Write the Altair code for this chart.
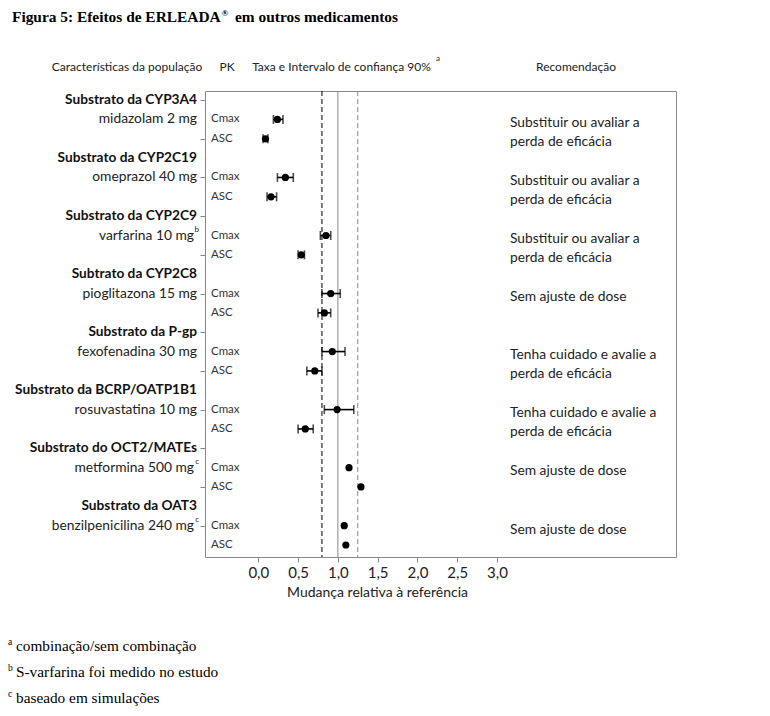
import altair as alt
import pandas as pd

# ---------------- data ----------------
headers = ["Substrato da CYP3A4", "Substrato da CYP2C19", "Substrato da CYP2C9",
           "Subtrato da CYP2C8", "Substrato da P-gp", "Substrato da BCRP/OATP1B1",
           "Substrato do OCT2/MATEs", "Substrato da OAT3"]
drugs = ["midazolam 2 mg", "omeprazol 40 mg", "varfarina 10 mg", "pioglitazona 15 mg",
         "fexofenadina 30 mg", "rosuvastatina 10 mg", "metformina 500 mg",
         "benzilpenicilina 240 mg"]
drug_notes = ["", "", "b", "", "", "", "c", "c"]
cmax_ratio = [0.24, 0.34, 0.85, 0.91, 0.93, 0.99, 1.14, 1.08]
cmax_lo = [0.19, 0.24, 0.78, 0.80, 0.80, 0.83, None, None]
cmax_hi = [0.31, 0.44, 0.91, 1.03, 1.09, 1.20, None, None]
asc_ratio = [0.09, 0.16, 0.54, 0.83, 0.71, 0.59, 1.29, 1.10]
asc_lo = [0.06, 0.11, 0.50, 0.75, 0.61, 0.50, None, None]
asc_hi = [0.12, 0.23, 0.58, 0.91, 0.80, 0.69, None, None]
recommendations = ["Substituir ou avaliar a\nperda de eficácia",
                   "Substituir ou avaliar a\nperda de eficácia",
                   "Substituir ou avaliar a\nperda de eficácia",
                   "Sem ajuste de dose",
                   "Tenha cuidado e avalie a\nperda de eficácia",
                   "Tenha cuidado e avalie a\nperda de eficácia",
                   "Sem ajuste de dose",
                   "Sem ajuste de dose"]
ref_lines = [0.8, 1.0, 1.25]
x_ticks = [0, 0.5, 1.0, 1.5, 2.0, 2.5, 3.0]
footnotes = ["combinação/sem combinação", "S-varfarina foi medido no estudo",
             "baseado em simulações"]
footnote_marks = ["a", "b", "c"]

# ---------------- tables ----------------
rows = []
for i in range(len(headers)):
    base = 3 * i
    rows.append(dict(row=base + 1, pk="Cmax", ratio=cmax_ratio[i], lo=cmax_lo[i], hi=cmax_hi[i]))
    rows.append(dict(row=base + 2, pk="ASC", ratio=asc_ratio[i], lo=asc_lo[i], hi=asc_hi[i]))
pts = pd.DataFrame(rows)
ci = pts.dropna(subset=["lo"])

hdr = pd.DataFrame(dict(row=[3 * i for i in range(len(headers))], label=headers))
drg = pd.DataFrame(dict(row=[3 * i + 1 for i in range(len(drugs))], label=drugs, note=drug_notes))
rec = pd.DataFrame(dict(row=[3 * i + 1.2 for i in range(len(recommendations))],
                        label=recommendations))
refs = pd.DataFrame(dict(x=ref_lines, kind=["lo", "one", "hi"]))

FONT = "Lato"
SERIF = "Liberation Serif"
X_DOM = [-0.67, 5.25]
Y_DOM = [-0.47, 23.62]

xs = alt.Scale(domain=X_DOM, nice=False, zero=False)
ys = alt.Scale(domain=Y_DOM, reverse=True, nice=False, zero=False)

x_axis = alt.Axis(values=x_ticks, labelExpr="replace(format(datum.value, '.1f'), '.', ',')",
                  grid=False, domain=False, tickSize=5, tickColor="#888", labelPadding=3,
                  labelFont=FONT, labelFontSize=15, labelColor="#222",
                  title="Mudança relativa à referência", titleFont=FONT, titleFontSize=14,
                  titleFontWeight="normal", titleColor="#222", titleX=172, titleY=35,
                  titleBaseline="middle")
y_axis = alt.Axis(values=list(range(24)), labels=False, grid=False, domain=False,
                  tickSize=5, tickColor="#888", title=None)

base = alt.Chart(pts)

ref_layer = alt.Chart(refs).mark_rule(strokeWidth=1).encode(
    x=alt.X("x:Q", scale=xs, axis=x_axis),
    color=alt.Color("kind:N", scale=alt.Scale(domain=["lo", "one", "hi"],
                                              range=["#000000", "#888888", "#888888"]),
                    legend=None),
    strokeDash=alt.StrokeDash("kind:N", scale=alt.Scale(domain=["lo", "one", "hi"],
                                                        range=[[5, 3], [1, 0], [5, 3]]),
                              legend=None),
)

ci_line = alt.Chart(ci).mark_rule(color="black", strokeWidth=1.6).encode(
    x=alt.X("lo:Q", scale=xs), x2="hi:Q",
    y=alt.Y("row:Q", scale=ys, axis=y_axis))
cap_lo = alt.Chart(ci).mark_tick(color="black", orient="vertical", size=9, thickness=1.6).encode(
    x=alt.X("lo:Q", scale=xs), y=alt.Y("row:Q", scale=ys))
cap_hi = alt.Chart(ci).mark_tick(color="black", orient="vertical", size=9, thickness=1.6).encode(
    x=alt.X("hi:Q", scale=xs), y=alt.Y("row:Q", scale=ys))
dots = base.mark_point(filled=True, color="black", size=52, opacity=1).encode(
    x=alt.X("ratio:Q", scale=xs), y=alt.Y("row:Q", scale=ys, axis=y_axis))

pk_text = base.mark_text(align="left", baseline="middle", font=FONT, fontSize=11.5,
                         color="#333").encode(
    x=alt.value(6), y=alt.Y("row:Q", scale=ys), text="pk:N")

hdr_text = alt.Chart(hdr).mark_text(align="right", baseline="middle", font=FONT, fontSize=13.7,
                                    fontWeight="bold", color="#111").encode(
    x=alt.value(-8), y=alt.Y("row:Q", scale=ys), text="label:N")
drg_plain = alt.Chart(drg).transform_filter("datum.note == ''").mark_text(
    align="right", baseline="middle", font=FONT, fontSize=13.8, color="#222").encode(
    x=alt.value(-8), y=alt.Y("row:Q", scale=ys), text="label:N")
drg_noted = alt.Chart(drg).transform_filter("datum.note != ''").mark_text(
    align="right", baseline="middle", font=FONT, fontSize=13.8, color="#222").encode(
    x=alt.value(-11), y=alt.Y("row:Q", scale=ys), text="label:N")
drg_note = alt.Chart(drg).transform_filter("datum.note != ''").mark_text(
    align="right", baseline="middle", font=FONT, fontSize=8, color="#222", dy=-6).encode(
    x=alt.value(-6), y=alt.Y("row:Q", scale=ys), text="note:N")

rec_text = alt.Chart(rec).mark_text(align="left", baseline="middle", font=FONT, fontSize=13.8,
                                    color="#222", lineBreak="\n", lineHeight=18.5).encode(
    x=alt.value(305), y=alt.Y("row:Q", scale=ys), text="label:N")

# column headers
col_hdr = pd.DataFrame(dict(label=["Características da população", "PK",
                                   "Taxa e Intervalo de confiança 90%", "Recomendação"],
                            px=[-78, 22, 136.5, 371]))
col_text = alt.Chart(col_hdr).mark_text(align="center", baseline="middle", font=FONT,
                                        fontSize=12, color="#222").encode(
    x=alt.X("px:Q", scale=None), y=alt.value(-24), text="label:N")
col_sup = alt.Chart(pd.DataFrame(dict(t=["a"]))).mark_text(
    align="left", baseline="middle", font=FONT, fontSize=8, color="#222").encode(
    x=alt.value(231), y=alt.value(-32), text="t:N")

# figure title
title_df = pd.DataFrame(dict(t=["Figura 5: Efeitos de ERLEADA", "®", "em outros medicamentos"],
                             px=[-193, 16.5, 30], py=[-69.5, -75, -69.5],
                             fs=[15.4, 9, 15.4]))
title_text = alt.Chart(title_df).mark_text(align="left", baseline="alphabetic", font=SERIF,
                                           fontWeight="bold", color="#000").encode(
    x=alt.X("px:Q", scale=None), y=alt.Y("py:Q", scale=None), text="t:N",
    size=alt.Size("fs:Q", scale=None, legend=None))

# footnotes
fn_df = pd.DataFrame(dict(t=footnotes, m=footnote_marks, py=[560, 586, 612]))
fn_text = alt.Chart(fn_df).mark_text(align="left", baseline="alphabetic", font=SERIF,
                                     fontSize=15.3, color="#000").encode(
    x=alt.value(-189), y=alt.Y("py:Q", scale=None), text="t:N")
fn_mark = alt.Chart(fn_df).mark_text(align="left", baseline="alphabetic", font=SERIF,
                                     fontSize=9.5, color="#000", dy=-6).encode(
    x=alt.value(-197), y=alt.Y("py:Q", scale=None), text="m:N")

chart = alt.layer(ref_layer, ci_line, cap_lo, cap_hi, dots, pk_text, hdr_text, drg_plain,
                  drg_noted, drg_note, rec_text, col_text, col_sup, title_text, fn_text,
                  fn_mark).properties(
    width=471, height=466,
    autosize=alt.AutoSizeParams(type="none"),
    padding={"left": 197, "top": 83, "right": 86, "bottom": 150},
    background="white",
).configure_view(stroke="#888", strokeWidth=1)

chart.save("out.html", embed_options={"renderer": "svg", "actions": False})
